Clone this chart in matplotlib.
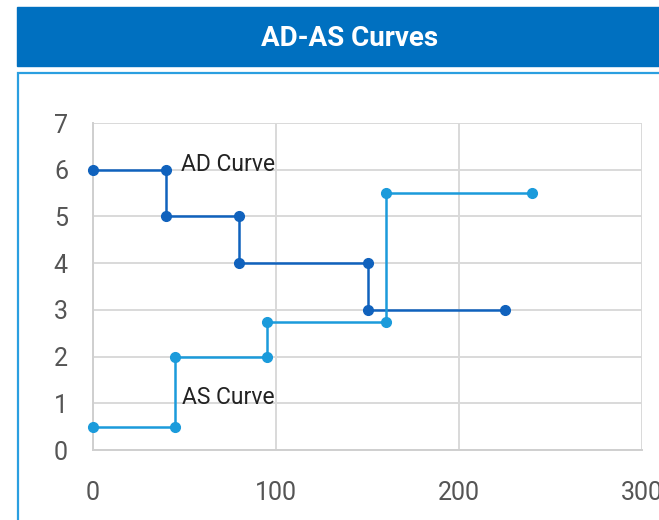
import numpy as np
from matplotlib import pyplot as plt
from matplotlib.patches import Rectangle

# Data
ad_x = [0, 40, 40, 80, 80, 150, 150, 225]
ad_y = [6, 6, 5, 5, 4, 4, 3, 3]
as_x = [0, 45, 45, 95, 95, 160, 160, 240]
as_y = [0.5, 0.5, 2, 2, 2.75, 2.75, 5.5, 5.5]
x_ticks = [0, 100, 200, 300]
y_ticks = [0, 1, 2, 3, 4, 5, 6, 7]
title = 'AD-AS Curves'
ad_label = 'AD Curve'
as_label = 'AS Curve'

plt.rcParams['font.family'] = ['Roboto', 'DejaVu Sans']

W, H = 659, 520
fig = plt.figure(figsize=(W / 100, H / 100), dpi=100)

# Header band and card frame
fig.patches.append(Rectangle((17 / W, 1 - 66 / H), 1, 59 / H,
                             transform=fig.transFigure, color='#0070C0', zorder=-2))
fig.patches.append(Rectangle((18 / W, -0.1), 1, 1.1 - 73 / H,
                             transform=fig.transFigure, facecolor='white',
                             edgecolor='#2B9FE0', lw=1.6, zorder=-2))
fig.text(350 / W, 1 - 38 / H, title, color='white', fontsize=20,
         fontweight='bold', ha='center', va='center')

ax = fig.add_axes([93 / W, 70 / H, 549 / W, 327 / H])
ax.set_zorder(2)
ax.patch.set_alpha(0)
ax.plot(ad_x, ad_y, '-o', color='#1062BD', lw=1.8, ms=7, zorder=3, clip_on=False)
ax.plot(as_x, as_y, '-o', color='#1B9BDB', lw=1.8, ms=7, zorder=3, clip_on=False)
ax.text(48, 6.12, ad_label, fontsize=16.5, color='#222222', va='center', zorder=4)
ax.text(48.5, 1.12, as_label, fontsize=16.5, color='#222222', va='center', zorder=4)

ax.set_xlim(0, 300)
ax.set_ylim(0, 7)
ax.set_xticks(x_ticks)
ax.set_yticks(y_ticks)
ax.grid(True, color='#d9d9d9', lw=1.4)
ax.set_axisbelow(True)
for s in ['top', 'right']:
    ax.spines[s].set_visible(False)
for s in ['left', 'bottom']:
    ax.spines[s].set_color('#cfcfcf')
    ax.spines[s].set_linewidth(1.4)
ax.tick_params(length=0, labelsize=18, labelcolor='#555555')
ax.tick_params(axis='x', pad=22)
ax.tick_params(axis='y', pad=18)

fig.savefig('out.png', dpi=100)
